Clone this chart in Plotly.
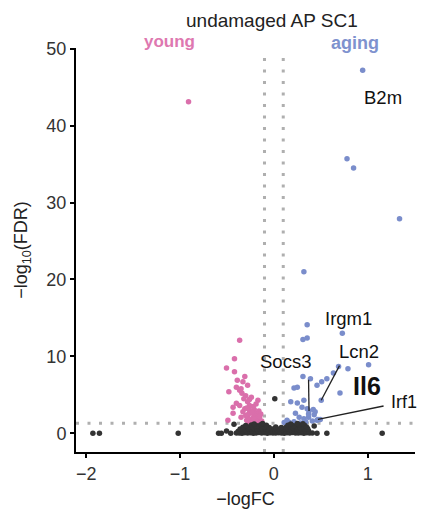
import plotly.graph_objects as go

# ---------------- data ----------------
young_fc = [-0.91, -0.365, -0.42, -0.505, -0.42, -0.31, -0.39, -0.33, -0.28, -0.48,
            -0.365, -0.34, -0.24, -0.17, -0.28, -0.40, -0.435, -0.365, -0.31, -0.26,
            -0.21, -0.19, -0.28, -0.22, -0.155, -0.29, -0.35, -0.435, -0.49, -0.21,
            -0.17, -0.24, -0.40, -0.35, -0.27, -0.23, -0.20, -0.18, -0.25, -0.30,
            -0.33, -0.26, -0.22, -0.19, -0.16, -0.14, -0.13, -0.30, -0.32, -0.24,
            -0.21, -0.27, -0.18, -0.15, -0.26, -0.23, -0.29]
young_fdr = [43.1, 12.1, 9.7, 8.5, 8.0, 7.4, 6.9, 6.7, 6.25, 5.4,
             5.6, 5.2, 4.7, 4.3, 4.1, 3.9, 3.4, 3.6, 3.2, 3.0,
             3.1, 2.6, 2.3, 2.1, 1.9, 1.7, 2.1, 2.6, 1.7, 1.5,
             1.6, 1.35, 6.0, 5.8, 2.5, 2.8, 2.3, 2.0, 1.8, 2.3,
             2.8, 3.6, 3.5, 3.8, 2.9, 2.5, 1.6, 4.9, 4.5, 1.6,
             1.8, 1.5, 1.45, 2.2, 4.4, 2.7, 3.3]

aging_fc = [0.947, 0.78, 0.85, 1.34, 0.32, 0.355, 0.31, 0.355, 0.73, 1.01,
            0.79, 0.69, 0.635, 0.565, 0.51, 0.46, 0.705, 0.31, 0.39, 0.215,
            0.25, 0.505, 0.18, 0.25, 0.32, 0.30, 0.355, 0.375, 0.42, 0.44,
            0.27, 0.32, 0.37, 0.46, 0.495, 0.41, 0.14, 0.215, 0.28, 0.11,
            0.47, 0.37, 0.34, 0.43, 0.23, 0.16]
aging_fdr = [47.2, 35.7, 34.5, 27.9, 21.0, 14.1, 12.2, 12.4, 13.0, 8.9,
             8.4, 8.7, 7.85, 7.1, 6.7, 6.25, 5.25, 7.4, 7.1, 5.9,
             6.0, 4.3, 4.1, 3.95, 4.3, 3.4, 3.2, 2.9, 3.1, 2.8,
             2.1, 1.9, 2.1, 1.7, 1.8, 1.6, 1.7, 1.5, 1.35, 1.4,
             1.8, 2.5, 1.5, 2.4, 2.6, 1.45]

ns_fc = [-0.40, -0.37, -0.34, -0.31, -0.28, -0.25, -0.22, -0.19, -0.16, -0.13,
         -0.10, -0.07, -0.04, -0.01, 0.02, 0.05, 0.08, 0.11, 0.14, 0.17,
         0.20, 0.23, 0.26, 0.29, 0.32, 0.35, 0.38, 0.41,
         -0.38, -0.33, -0.29, -0.26, -0.23, -0.20, -0.17, -0.14, -0.11, -0.08,
         -0.05, -0.02, 0.01, 0.04, 0.07, 0.10, 0.13, 0.16, 0.19, 0.22,
         0.25, 0.28, 0.31, 0.34, 0.37,
         -0.36, -0.31, -0.27, -0.24, -0.21, -0.18, -0.15, -0.12, -0.09, -0.06,
         -0.03, 0.00, 0.03, 0.06, 0.09, 0.12, 0.15, 0.18, 0.21, 0.24,
         0.27, 0.30, 0.33, 0.36,
         -0.33, -0.27, -0.22, -0.19, -0.16, -0.13, -0.10, -0.05, 0.02, 0.08,
         0.13, 0.17, 0.20, 0.24, 0.28, 0.32, 0.35,
         -0.30, -0.24, -0.18, -0.14, -0.08, 0.15, 0.21, 0.27, 0.33,
         -0.21, -0.12, 0.18, 0.25, 0.31,
         -1.93, -1.86, -1.02, -0.59, -0.56, -0.505, -0.425, -0.46, 0.01, 0.43,
         0.46, 0.565, 1.155]
ns_fdr = [0.03, 0.05, 0.02, 0.08, 0.04, 0.06, 0.02, 0.05, 0.09, 0.03,
          0.06, 0.02, 0.07, 0.04, 0.03, 0.08, 0.05, 0.02, 0.06, 0.04,
          0.09, 0.03, 0.05, 0.07, 0.02, 0.06, 0.04, 0.03,
          0.28, 0.31, 0.25, 0.34, 0.29, 0.22, 0.36, 0.27, 0.32, 0.24,
          0.30, 0.35, 0.26, 0.33, 0.21, 0.29, 0.37, 0.25, 0.31, 0.28,
          0.34, 0.23, 0.30, 0.26, 0.32,
          0.55, 0.50, 0.58, 0.52, 0.61, 0.48, 0.56, 0.53, 0.59, 0.47,
          0.54, 0.60, 0.51, 0.57, 0.49, 0.55, 0.62, 0.50, 0.58, 0.53,
          0.46, 0.56, 0.52, 0.59,
          0.78, 0.82, 0.75, 0.86, 0.80, 0.73, 0.84, 0.77, 0.81, 0.74,
          0.79, 0.85, 0.76, 0.83, 0.72, 0.80, 0.78,
          1.02, 1.08, 0.98, 1.10, 1.04, 1.06, 0.99, 1.12, 1.03,
          1.22, 1.27, 1.20, 1.28, 1.24,
          0.02, 0.02, 0.02, 0.02, 0.02, 0.3, 1.17, 0.02, 4.5, 0.95,
          0.02, 0.02, 0.02]

# labelled genes: label text position and (optional) segment from label to point
label_gene = ["B2m", "Irgm1", "Lcn2", "<b>Il6</b>", "Socs3", "Irf1"]
label_x = [1.163, 0.793, 0.91, 0.99, 0.125, 1.39]
label_y = [43.7, 14.9, 10.6, 6.14, 9.3, 4.1]
label_size = [18.5, 18.5, 18.5, 25, 18.5, 18]
seg_gene = ["Lcn2", "Socs3", "Irf1"]
seg_from_x = [0.70, 0.37, 1.17]
seg_from_y = [8.8, 6.95, 3.55]
seg_to_x = [0.505, 0.375, 0.47]
seg_to_y = [4.3, 2.9, 1.8]

fc_cut = 0.1
fdr_cut = 1.3
x_ticks = [-2, -1, 0, 1]
y_ticks = [0, 10, 20, 30, 40, 50]

assert len(young_fc) == len(young_fdr)
assert len(aging_fc) == len(aging_fdr)
assert len(ns_fc) == len(ns_fdr)

PINK = "#DA6FAB"
BLUE = "#7A8DCB"
DARK = "#333333"
FONT = "Liberation Sans, Arial, sans-serif"

fig = go.Figure()
fig.add_trace(go.Scatter(x=young_fc, y=young_fdr, mode="markers",
                         marker=dict(size=5.5, color=PINK), cliponaxis=False))
fig.add_trace(go.Scatter(x=aging_fc, y=aging_fdr, mode="markers",
                         marker=dict(size=5.5, color=BLUE), cliponaxis=False))
fig.add_trace(go.Scatter(x=ns_fc, y=ns_fdr, mode="markers",
                         marker=dict(size=5.5, color=DARK), cliponaxis=False))

# segments
sx, sy = [], []
for a, b, c, d in zip(seg_from_x, seg_from_y, seg_to_x, seg_to_y):
    sx += [a, c, None]
    sy += [b, d, None]
fig.add_trace(go.Scatter(x=sx, y=sy, mode="lines",
                         line=dict(color="#222222", width=1.3), hoverinfo="skip"))

# threshold lines
dot = dict(color="#AFAFAF", width=3, dash="3px,8.5px")
for v in (-fc_cut, fc_cut):
    fig.add_shape(type="line", xref="x", yref="paper", x0=v, x1=v, y0=0, y1=0.985,
                  line=dot, layer="below")
fig.add_shape(type="line", xref="paper", yref="y", x0=0, x1=1, y0=fdr_cut, y1=fdr_cut,
              line=dot, layer="below")

for g, x, y, s in zip(label_gene, label_x, label_y, label_size):
    fig.add_annotation(x=x, y=y, text=g, showarrow=False, xanchor="center", yanchor="middle",
                       font=dict(size=s, color="#111111", family=FONT))

fig.add_annotation(xref="paper", yref="paper", x=0.578, y=1.068, text="undamaged AP SC1",
                   showarrow=False, xanchor="center", yanchor="middle",
                   font=dict(size=19, color="#222222", family=FONT))
fig.add_annotation(xref="paper", yref="paper", x=0.277, y=1.017, text="<b>young</b>",
                   showarrow=False, xanchor="center", yanchor="middle",
                   font=dict(size=17, color="#DE78B0", family=FONT))
fig.add_annotation(xref="paper", yref="paper", x=0.823, y=1.012, text="<b>aging</b>",
                   showarrow=False, xanchor="center", yanchor="middle",
                   font=dict(size=18, color="#7E92CE", family=FONT))

axis_common = dict(showline=True, linecolor="black", linewidth=2, ticks="outside",
                   ticklen=4, tickwidth=1.5, tickcolor="black", showgrid=False,
                   zeroline=False, tickfont=dict(size=18, color="#333333", family=FONT))
fig.update_xaxes(range=[-2.11, 1.505], tickvals=x_ticks,
                 ticktext=["\u22122", "\u22121", "0", "1"],
                 title=dict(text="\u2212logFC", font=dict(size=18, color="#222222", family=FONT),
                            standoff=10),
                 **axis_common)
fig.update_yaxes(range=[-2.43, 50.1], tickvals=y_ticks,
                 title=dict(text="\u2212log<sub>10</sub>(FDR)",
                            font=dict(size=18, color="#222222", family=FONT), standoff=14),
                 **axis_common)

fig.update_layout(width=421, height=513, showlegend=False,
                  margin=dict(l=76, r=6, t=48, b=61),
                  plot_bgcolor="white", paper_bgcolor="white",
                  font=dict(family=FONT))

fig.write_html("out.html", config={"displayModeBar": False},
               post_script="document.body.style.margin='0px';")
